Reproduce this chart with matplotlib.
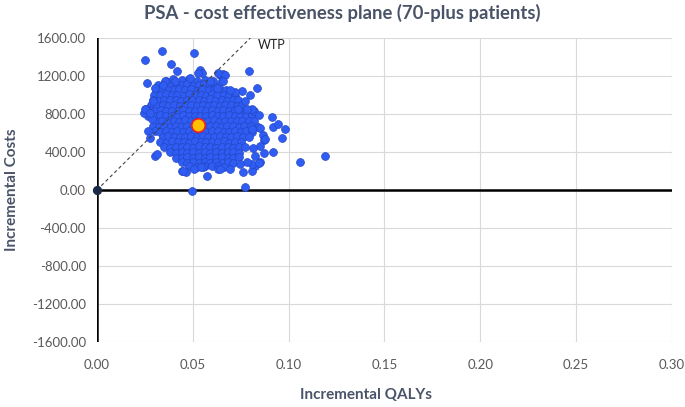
import matplotlib.pyplot as plt
from matplotlib.ticker import FormatStrFormatter

# dense core of the simulation cloud
qaly_core = [
    .0362, .0398, .0441, .0478, .0523, .0561,
    .0318, .0352, .0381, .0413, .0442, .0471, .0502, .0531, .0559, .0592, .0618,
    .0308, .0339, .0371, .0402, .0428, .0461, .0489, .0521, .0549, .0582, .0611, .0642, .0671,
    .0297, .0331, .0359, .0391, .0419, .0452, .0481, .0509, .0542, .0571, .0601, .0628, .0661, .0689, .0718,
    .0291, .0322, .0349, .0382, .0411, .0439, .0472, .0498, .0531, .0559, .0591, .0618, .0651, .0679, .0709, .0738,
    .0282, .0311, .0342, .0371, .0402, .0431, .0462, .0489, .0521, .0552, .0579, .0612, .0641, .0668, .0701, .0729, .0758,
    .0272, .0301, .0333, .0362, .0391, .0422, .0451, .0482, .0511, .0542, .0569, .0602, .0631, .0659, .0691, .0719, .0749, .0779,
    .0268, .0298, .0329, .0358, .0389, .0418, .0449, .0478, .0509, .0538, .0568, .0598, .0629, .0658, .0688, .0719, .0748, .0778, .0808,
    .0311, .0341, .0369, .0401, .0429, .0461, .0489, .0519, .0551, .0579, .0611, .0639, .0669, .0701, .0729, .0759, .0791, .0819,
    .0291, .0321, .0351, .0379, .0411, .0439, .0471, .0499, .0529, .0561, .0589, .0621, .0649, .0679, .0711, .0739, .0769, .0801,
    .0301, .0331, .0359, .0391, .0419, .0451, .0479, .0511, .0539, .0569, .0601, .0629, .0661, .0689, .0719, .0751, .0779, .0811,
    .0342, .0371, .0401, .0432, .0461, .0491, .0522, .0551, .0581, .0612, .0641, .0671, .0701, .0731, .0762, .0791,
    .0331, .0362, .0391, .0421, .0452, .0481, .0511, .0542, .0571, .0601, .0632, .0661, .0691, .0721, .0752,
    .0352, .0381, .0412, .0441, .0471, .0502, .0531, .0561, .0592, .0621, .0651, .0682, .0711, .0741, .0772,
    .0381, .0411, .0441, .0472, .0501, .0531, .0562, .0591, .0621, .0652, .0681, .0711, .0742,
    .0412, .0442, .0471, .0502, .0532, .0561, .0591, .0622, .0652, .0681, .0712, .0742,
    .0441, .0472, .0503, .0531, .0562, .0592, .0621, .0651, .0681, .0708,
    .0482, .0521, .0561, .0601, .0631, .0661,
]
cost_core = [
    1150, 1172, 1158, 1166, 1148, 1160,
    1105, 1118, 1098, 1112, 1104, 1121, 1099, 1110, 1115, 1102, 1108,
    1050, 1062, 1048, 1058, 1066, 1052, 1060, 1047, 1063, 1055, 1049, 1061, 1053,
    1002, 995, 1008, 998, 1004, 992, 1006, 999, 1003, 994, 1009, 997, 1001, 1005, 993,
    948, 940, 952, 943, 947, 938, 951, 944, 946, 941, 953, 939, 949, 942, 950, 945,
    892, 885, 897, 889, 894, 884, 890, 898, 886, 893, 888, 895, 883, 891, 896, 887, 890,
    838, 830, 842, 833, 836, 828, 841, 835, 829, 839, 834, 843, 831, 837, 832, 840, 836, 830,
    781, 775, 786, 778, 783, 772, 788, 779, 784, 776, 782, 787, 774, 780, 785, 777, 783, 779, 786,
    720, 731, 723, 728, 718, 733, 724, 729, 721, 727, 732, 719, 725, 730, 722, 728, 724, 731,
    671, 665, 676, 668, 673, 663, 678, 669, 674, 666, 672, 677, 664, 670, 675, 667, 673, 669,
    616, 610, 621, 613, 618, 608, 623, 614, 619, 611, 617, 622, 609, 615, 620, 612, 618, 614,
    555, 566, 558, 563, 553, 568, 559, 564, 556, 562, 567, 554, 560, 565, 557, 563,
    506, 500, 511, 503, 508, 498, 513, 504, 509, 501, 507, 512, 499, 505, 510,
    451, 445, 456, 448, 453, 443, 458, 449, 454, 446, 452, 457, 444, 450, 455,
    396, 390, 401, 393, 398, 388, 403, 394, 399, 391, 397, 402, 389,
    341, 335, 346, 338, 343, 333, 348, 339, 344, 336, 342, 347,
    291, 285, 296, 288, 293, 283, 298, 289, 294, 286,
    252, 246, 255, 249, 253, 247,
]

# scattered simulations around the edge of the cloud
qaly_outer = [
    .0250, .0341, .0506, .0386, .0419, .0795, .0259, .0245, .0268, .0303,
    .0315, .0442, .0463, .0572, .0497, .0772, .1059, .1189, .0911, .0981,
    .0917, .0946, .0963, .0917, .0833, .0772, .0798, .0755, .0720, .0694,
    .0659, .0642, .0650, .0537, .0546, .0607, .0624, .0821, .0847, .0841,
    .0868, .0871, .0850, .0871, .0850, .0824, .0807, .0763, .0694, .0633,
    .0555, .0355, .0303, .0294, .0256, .0285, .0277, .0529, .0589, .0633,
    .0346, .0407, .0485, .0250, .0277, .0450, .0506, .0543, .0642, .0876,
    .0850, .0807, .0815, .0807, .0781, .0746, .0824, .0847, .0807, .0781,
    .0737, .0668, .0655,
]
cost_outer = [
    1364, 1466, 1441, 1330, 1253, 1249, 1128, 806, 621, 353,
    377, 196, 185, 143, -10, 31, 296, 353, 767, 639,
    663, 691, 552, 401, 1075, 935, 995, 1040, 1029, 1057,
    1222, 1215, 1144, 1267, 1232, 1144, 1075, 830, 793, 667,
    576, 527, 464, 387, 296, 254, 202, 185, 220, 220,
    238, 1144, 1075, 935, 848, 743, 552, 1232, 1144, 1232,
    1110, 1144, 1180, 848, 813, 196, 220, 238, 220, 534,
    656, 639, 447, 272, 290, 272, 359, 280, 848, 848,
    848, 1215, 1144,
]

mean_qaly = 0.0525
mean_cost = 684
wtp = 20000
wtp_qaly = [0, 0.08]

x_ticks = [0.00, 0.05, 0.10, 0.15, 0.20, 0.25, 0.30]
y_ticks = [-1600, -1200, -800, -400, 0, 400, 800, 1200, 1600]

plt.rcParams['font.family'] = ['Lato', 'DejaVu Sans']

fig = plt.figure(figsize=(6.85, 4.07), dpi=100)
ax = fig.add_axes([0.1416, 0.1597, 0.8394, 0.7469])

for s in ax.spines.values():
    s.set_visible(False)
ax.grid(True, color='#D9D9D9', linewidth=0.8)
ax.set_axisbelow(True)
ax.axhline(0, color='black', linewidth=1.8, zorder=2)
ax.axvline(0, color='black', linewidth=1.8, zorder=2)

blue = '#2F5CF2'
ax.scatter(qaly_core, cost_core, s=32, color=blue, edgecolors='#2447C6', linewidths=0.5, zorder=4)
ax.scatter(qaly_outer, cost_outer, s=32, color=blue, edgecolors='#2447C6', linewidths=0.5, zorder=4)

# WTP line sits on top of the cloud
ax.plot(wtp_qaly, [q * wtp for q in wtp_qaly], color='#404040', linestyle=(0, (3, 2.5)),
        linewidth=0.8, zorder=5)
ax.text(0.0838, 1530, 'WTP', fontsize=9, color='#222222', va='center')

ax.scatter([mean_qaly], [mean_cost], s=95, color='#FFC000', edgecolors='#E8202A', linewidths=1.2, zorder=6)
ax.scatter([0], [0], s=32, color='#1C2A4A', zorder=6, clip_on=False)

ax.set_xlim(0, 0.30)
ax.set_ylim(-1600, 1600)
ax.set_xticks(x_ticks)
ax.set_yticks(y_ticks)
ax.xaxis.set_major_formatter(FormatStrFormatter('%.2f'))
ax.yaxis.set_major_formatter(FormatStrFormatter('%.2f'))
ax.tick_params(length=0, labelsize=9.5, labelcolor='#595959')
ax.tick_params(axis='x', pad=12)
ax.tick_params(axis='y', pad=8)

fig.text(0.5, 0.968, 'PSA - cost effectiveness plane (70-plus patients)', ha='center', va='center',
         fontsize=13.3, fontweight='bold', color='#4A5468')
fig.text(0.535, 0.03, 'Incremental QALYs', ha='center', va='center',
         fontsize=11, fontweight='bold', color='#4A5468')
fig.text(0.018, 0.533, 'Incremental Costs', ha='center', va='center', rotation=90,
         fontsize=11, fontweight='bold', color='#4A5468')

fig.savefig('out.png', dpi=100)
